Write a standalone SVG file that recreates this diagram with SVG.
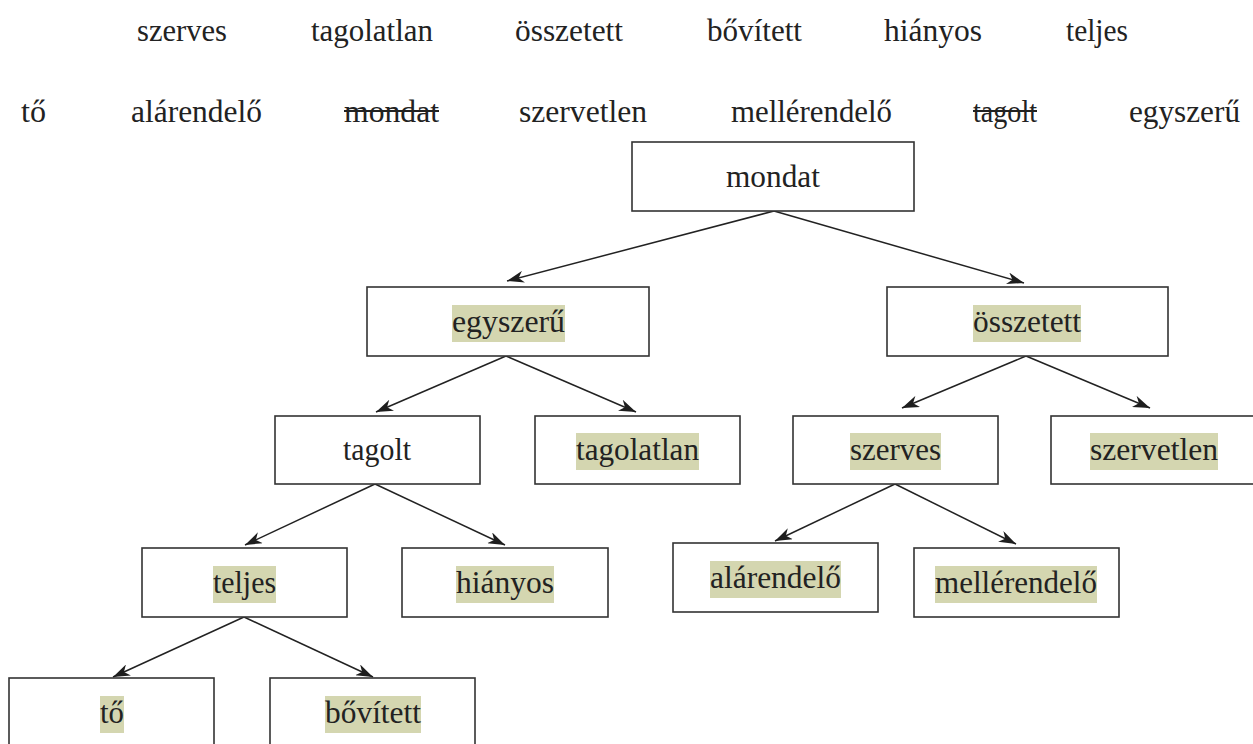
<svg xmlns="http://www.w3.org/2000/svg" width="1253" height="744" viewBox="0 0 1253 744">
<defs>
<marker id="arr" viewBox="0 0 17 12" refX="17" refY="6" markerWidth="17" markerHeight="12" markerUnits="userSpaceOnUse" orient="auto">
<path d="M0,0 L17,6 L0,12 L5,6 Z" fill="#1e1e1e"/>
</marker>
</defs>
<style>
text{font-family:"Liberation Serif","DejaVu Serif",serif;font-size:31px;fill:#222}
.box{fill:#fff;stroke:#333;stroke-width:1.6}
.hl{fill:#d4d6b0}
.edge{stroke:#222;stroke-width:1.5;fill:none;marker-end:url(#arr)}
.strike{stroke:#222;stroke-width:2}
</style>
<rect width="1253" height="744" fill="#fff"/>
<g id="wordlist">
<text x="137" y="41" textLength="90" lengthAdjust="spacingAndGlyphs">szerves</text>
<text x="311" y="41" textLength="122" lengthAdjust="spacingAndGlyphs">tagolatlan</text>
<text x="515" y="41" textLength="108" lengthAdjust="spacingAndGlyphs">összetett</text>
<text x="707" y="41" textLength="95" lengthAdjust="spacingAndGlyphs">bővített</text>
<text x="884" y="41" textLength="98" lengthAdjust="spacingAndGlyphs">hiányos</text>
<text x="1066" y="41" textLength="62" lengthAdjust="spacingAndGlyphs">teljes</text>
<text x="21" y="122" textLength="25" lengthAdjust="spacingAndGlyphs">tő</text>
<text x="131" y="122" textLength="131" lengthAdjust="spacingAndGlyphs">alárendelő</text>
<text x="344" y="122" textLength="95" lengthAdjust="spacingAndGlyphs">mondat</text>
<line class="strike" x1="344" y1="111" x2="439" y2="111"/>
<text x="519" y="122" textLength="128" lengthAdjust="spacingAndGlyphs">szervetlen</text>
<text x="731" y="122" textLength="161" lengthAdjust="spacingAndGlyphs">mellérendelő</text>
<text x="973" y="122" textLength="64" lengthAdjust="spacingAndGlyphs">tagolt</text>
<line class="strike" x1="973" y1="111" x2="1037" y2="111"/>
<text x="1129" y="122" textLength="111" lengthAdjust="spacingAndGlyphs">egyszerű</text>
</g>
<g id="connectors">
<path class="edge" d="M774,211 L507,281"/>
<path class="edge" d="M774,211 L1024,283"/>
<path class="edge" d="M506,356 L376,412"/>
<path class="edge" d="M506,356 L636,412"/>
<path class="edge" d="M375,484 L245,545"/>
<path class="edge" d="M375,484 L505,545"/>
<path class="edge" d="M244,617 L113,677"/>
<path class="edge" d="M244,617 L373,677"/>
<path class="edge" d="M1026,356 L902,408"/>
<path class="edge" d="M1026,356 L1150,408"/>
<path class="edge" d="M895,484 L775,541"/>
<path class="edge" d="M895,484 L1016,544"/>
</g>
<g id="n-mondat">
<rect class="box" x="632" y="142" width="282" height="69"/>
<text x="726" y="187" textLength="94" lengthAdjust="spacingAndGlyphs">mondat</text>
</g>
<g id="n-egyszeru">
<rect class="box" x="367" y="287" width="282" height="69"/>
<rect class="hl" x="452" y="305" width="113" height="37"/>
<text x="452" y="332" textLength="113" lengthAdjust="spacingAndGlyphs">egyszerű</text>
</g>
<g id="n-osszetett">
<rect class="box" x="887" y="287" width="281" height="69"/>
<rect class="hl" x="973" y="305" width="108" height="37"/>
<text x="973" y="332" textLength="108" lengthAdjust="spacingAndGlyphs">összetett</text>
</g>
<g id="n-tagolt">
<rect class="box" x="275" y="416" width="205" height="68"/>
<text x="343" y="460" textLength="68" lengthAdjust="spacingAndGlyphs">tagolt</text>
</g>
<g id="n-tagolatlan">
<rect class="box" x="535" y="416" width="205" height="68"/>
<rect class="hl" x="576" y="433" width="123" height="37"/>
<text x="576" y="460" textLength="123" lengthAdjust="spacingAndGlyphs">tagolatlan</text>
</g>
<g id="n-szerves">
<rect class="box" x="793" y="416" width="205" height="68"/>
<rect class="hl" x="850" y="433" width="91" height="37"/>
<text x="850" y="460" textLength="91" lengthAdjust="spacingAndGlyphs">szerves</text>
</g>
<g id="n-szervetlen">
<rect class="box" x="1051" y="416" width="205" height="68"/>
<rect class="hl" x="1090" y="433" width="128" height="37"/>
<text x="1090" y="460" textLength="128" lengthAdjust="spacingAndGlyphs">szervetlen</text>
</g>
<g id="n-teljes">
<rect class="box" x="142" y="548" width="205" height="69"/>
<rect class="hl" x="213" y="566" width="63" height="37"/>
<text x="213" y="593" textLength="63" lengthAdjust="spacingAndGlyphs">teljes</text>
</g>
<g id="n-hianyos">
<rect class="box" x="402" y="548" width="206" height="69"/>
<rect class="hl" x="456" y="566" width="98" height="37"/>
<text x="456" y="593" textLength="98" lengthAdjust="spacingAndGlyphs">hiányos</text>
</g>
<g id="n-alarendelo">
<rect class="box" x="673" y="543" width="205" height="69"/>
<rect class="hl" x="710" y="561" width="131" height="37"/>
<text x="710" y="588" textLength="131" lengthAdjust="spacingAndGlyphs">alárendelő</text>
</g>
<g id="n-mellerendelo">
<rect class="box" x="914" y="548" width="205" height="69"/>
<rect class="hl" x="935" y="566" width="162" height="37"/>
<text x="935" y="593" textLength="162" lengthAdjust="spacingAndGlyphs">mellérendelő</text>
</g>
<g id="n-to">
<rect class="box" x="9" y="678" width="205" height="70"/>
<rect class="hl" x="100" y="696" width="24" height="37"/>
<text x="100" y="723" textLength="24" lengthAdjust="spacingAndGlyphs">tő</text>
</g>
<g id="n-bovitett">
<rect class="box" x="270" y="678" width="205" height="70"/>
<rect class="hl" x="325" y="696" width="96" height="37"/>
<text x="325" y="723" textLength="96" lengthAdjust="spacingAndGlyphs">bővített</text>
</g>
</svg>
